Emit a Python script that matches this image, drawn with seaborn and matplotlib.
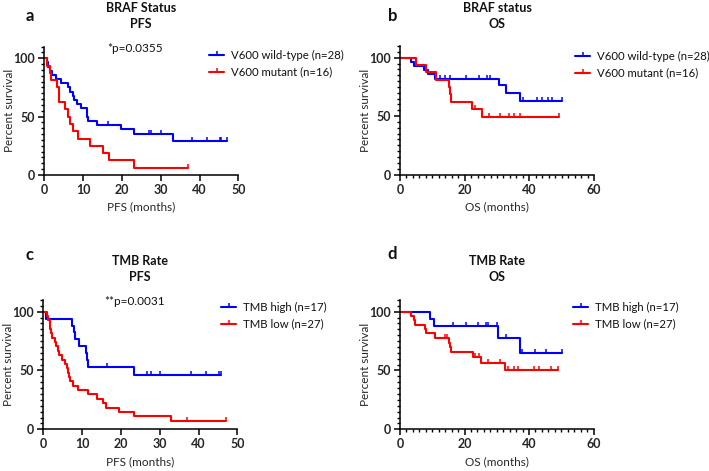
import numpy as np
import matplotlib
matplotlib.use("Agg")
import matplotlib.pyplot as plt
import seaborn as sns
import pandas as pd
from matplotlib.lines import Line2D
from matplotlib.ticker import MultipleLocator

# ---------------- data ----------------
# Panel a: BRAF status, PFS
a_wt_times = [0.6, 1.0, 1.5, 2.0, 3.0, 4.3, 6.2, 6.6, 7.3, 7.7, 8.4, 9.4, 11.0, 11.1, 11.2, 13.7, 19.7, 23.2, 33.1]
a_wt_surv = [96.4, 92.9, 89.3, 85.7, 82.1, 78.6, 75.0, 71.4, 67.9, 64.3, 60.7, 57.1, 53.6, 50.0, 46.4, 42.9, 39.0, 35.1, 29.2]
a_wt_cens = [16.5, 27.0, 27.6, 30.2, 38.0, 42.0, 45.3, 45.6, 47.0]
a_mut_times = [0.8, 1.4, 1.8, 3.4, 3.8, 3.9, 5.4, 6.1, 6.7, 7.5, 8.7, 11.9, 15.2, 16.6, 23.2]
a_mut_surv = [93.75, 87.5, 81.25, 75.0, 68.75, 62.5, 56.25, 50.0, 43.75, 37.5, 31.25, 25.0, 18.75, 12.5, 6.25]
a_mut_cens = [37.0]

# Panel b: BRAF status, OS
b_wt_times = [3.5, 4.2, 7.3, 8.7, 10.7, 30.7, 32.8, 37.2]
b_wt_surv = [96.4, 92.9, 89.3, 85.7, 82.1, 76.5, 69.7, 63.1]
b_wt_cens = [12.3, 13.8, 15.6, 20.5, 24.4, 27.0, 27.7, 38.0, 42.5, 44.0, 45.7, 47.0, 50.1]
b_mut_times = [5.1, 8.0, 11.1, 15.3, 15.5, 15.8, 22.2, 25.3]
b_mut_surv = [93.75, 87.5, 81.25, 75.0, 68.75, 62.5, 56.25, 49.2]
b_mut_cens = [23.1, 27.4, 31.0, 33.6, 35.4, 37.0, 49.1]

# Panel c: TMB rate, PFS
c_hi_times = [0.6, 7.4, 7.8, 8.2, 9.3, 11.1, 11.25, 11.4, 23.4]
c_hi_surv = [94.1, 88.2, 82.4, 76.5, 70.6, 64.7, 58.8, 52.9, 46.3]
c_hi_cens = [16.4, 26.8, 27.7, 30.2, 38.1, 42.0, 45.4, 45.7]
c_lo_times = [0.9, 1.3, 1.6, 1.8, 2.0, 2.2, 3.0, 3.4, 3.8, 4.1, 4.7, 5.6, 6.0, 6.3, 6.6, 6.8,
              7.6, 8.9, 11.6, 13.8, 15.3, 16.2, 19.6, 23.4, 33.0]
c_lo_surv = [96.3, 92.6, 88.9, 85.2, 81.5, 77.8, 74.1, 70.4, 66.7, 63.0, 59.3, 55.6, 51.9, 48.1, 44.4, 40.7,
             37.0, 33.3, 29.6, 25.9, 22.2, 18.5, 14.8, 11.1, 7.4]
c_lo_cens = [37.1, 47.2]

# Panel d: TMB rate, OS
d_hi_times = [9.2, 10.6, 30.5, 37.2]
d_hi_surv = [94.1, 88.2, 77.5, 64.6]
d_hi_cens = [16.5, 20.4, 24.2, 26.8, 27.4, 30.0, 33.0, 37.8, 41.8, 45.4, 50.2]
d_lo_times = [3.3, 4.2, 4.7, 7.7, 8.0, 11.0, 15.2, 15.4, 15.7, 22.6, 25.1, 32.5]
d_lo_surv = [96.3, 92.6, 88.9, 85.2, 81.5, 77.8, 73.7, 69.6, 65.5, 61.4, 56.7, 50.5]
d_lo_cens = [13.8, 14.6, 23.3, 24.4, 27.3, 30.9, 33.5, 35.2, 36.7, 41.5, 43.0, 46.8, 49.0]

panel_letters = ["a", "b", "c", "d"]
panel_titles = ["BRAF Status\nPFS", "BRAF status\nOS", "TMB Rate\nPFS", "TMB Rate\nOS"]
x_labels = ["PFS (months)", "OS (months)", "PFS (months)", "OS (months)"]
x_max = [50, 60, 50, 60]
x_major = [10, 20, 10, 20]
x_minor = [None, 2, None, 2]
p_texts = ["*p=0.0355", None, "**p=0.0031", None]
braf_labels = ["V600 wild-type (n=28)", "V600 mutant (n=16)"]
tmb_labels = ["TMB high (n=17)", "TMB low (n=27)"]

BLUE = "#0000ff"
RED = "#ff0000"

# ---------------- style ----------------
sns.set_theme(style="ticks")
FONT = ["Lato", "DejaVu Sans"]
plt.rcParams["font.family"] = FONT
plt.rcParams["axes.linewidth"] = 1.1
plt.rcParams["text.color"] = "#111111"

fig = plt.figure(figsize=(7.09, 4.71), dpi=100)

W, H = 709.0, 471.0
positions = [
    [44.3 / W, 1 - 175.0 / H, 194.0 / W, 128.4 / H],
    [400.0 / W, 1 - 174.5 / H, 194.0 / W, 128.4 / H],
    [43.3 / W, 1 - 429.3 / H, 194.0 / W, 129.4 / H],
    [400.0 / W, 1 - 429.3 / H, 193.5 / W, 129.4 / H],
]

tick_marker = [(0, 0), (0, 1)]


def draw_curve(ax, times, surv, cens, color, label):
    xs = [0.0] + list(times)
    ys = [100.0] + list(surv)
    end = max(max(cens), xs[-1])
    xs.append(end)
    ys.append(ys[-1])
    df = pd.DataFrame({"t": xs, "s": ys})
    sns.lineplot(data=df, x="t", y="s", ax=ax, color=color, lw=1.5,
                 drawstyle="steps-post", estimator=None, sort=False, label=label)
    tarr = np.array(xs)
    sarr = np.array(ys)
    cy = [sarr[np.searchsorted(tarr, c, side="right") - 1] for c in cens]
    ax.plot(cens, cy, linestyle="none", marker=tick_marker, markersize=5.5,
            markeredgewidth=1.1, color=color, clip_on=False)


curves = [
    [(a_wt_times, a_wt_surv, a_wt_cens), (a_mut_times, a_mut_surv, a_mut_cens)],
    [(b_wt_times, b_wt_surv, b_wt_cens), (b_mut_times, b_mut_surv, b_mut_cens)],
    [(c_hi_times, c_hi_surv, c_hi_cens), (c_lo_times, c_lo_surv, c_lo_cens)],
    [(d_hi_times, d_hi_surv, d_hi_cens), (d_lo_times, d_lo_surv, d_lo_cens)],
]
labels_all = [braf_labels, braf_labels, tmb_labels, tmb_labels]
legend_anchor = [(209, 50), (575, 51), (221, 302), (573, 302)]
title_y = [16, 16, 269, 269]
letter_pos = [(30, 16), (393, 16), (29, 255), (392, 254)]

for i in range(4):
    ax = fig.add_axes(positions[i])
    (t1, s1, c1), (t2, s2, c2) = curves[i]
    draw_curve(ax, t1, s1, c1, BLUE, labels_all[i][0])
    draw_curve(ax, t2, s2, c2, RED, labels_all[i][1])
    ax.get_legend().remove()

    ax.set_xlim(0, x_max[i])
    ax.set_ylim(0, 110)
    ax.xaxis.set_major_locator(MultipleLocator(x_major[i]))
    if x_minor[i]:
        ax.xaxis.set_minor_locator(MultipleLocator(x_minor[i]))
    ax.yaxis.set_major_locator(MultipleLocator(50))
    ax.yaxis.set_minor_locator(MultipleLocator(5))
    ax.tick_params(which="major", length=4, width=1.1, color="black", pad=2.5,
                   labelsize=9)
    ax.tick_params(which="minor", length=2.5, width=1.0, color="black")
    for lab in ax.get_xticklabels() + ax.get_yticklabels():
        lab.set_fontweight("bold")
    for sp in ["top", "right"]:
        ax.spines[sp].set_visible(False)
    for sp in ["left", "bottom"]:
        ax.spines[sp].set_color("black")

    ax.set_xlabel(x_labels[i], fontsize=8.5)
    ax.set_ylabel("Percent survival", fontsize=8.5)
    ax.xaxis.set_label_coords(0.5, -0.205)
    ax.yaxis.set_label_coords(-0.15, 0.5)

    if p_texts[i]:
        ax.text(0.468, 0.985, p_texts[i], transform=ax.transAxes, ha="center",
                va="center", fontsize=8.5)

    handles = [Line2D([0], [0], color=BLUE, lw=1.5, marker=tick_marker, markersize=5.5,
                      markeredgewidth=1.1),
               Line2D([0], [0], color=RED, lw=1.5, marker=tick_marker, markersize=5.5,
                      markeredgewidth=1.1)]
    lx, ly = legend_anchor[i]
    fig.legend(handles, labels_all[i], loc="upper left",
               bbox_to_anchor=(lx / W, 1 - ly / H), frameon=False, fontsize=8.2,
               handlelength=1.35, handletextpad=0.6, labelspacing=0.5,
               borderpad=0, borderaxespad=0, numpoints=1)

    cx = positions[i][0] + positions[i][2] / 2
    fig.text(cx, 1 - title_y[i] / H, panel_titles[i], ha="center", va="center",
             fontsize=9, fontweight="bold", linespacing=1.45)
    lxp, lyp = letter_pos[i]
    fig.text(lxp / W, 1 - lyp / H, panel_letters[i], ha="center", va="center",
             fontsize=12, fontweight="bold")

fig.savefig("out.png", dpi=100)
